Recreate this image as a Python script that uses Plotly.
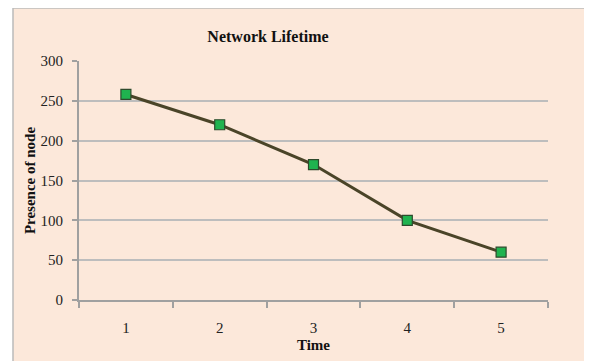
import plotly.graph_objects as go

time_labels = ["1", "2", "3", "4", "5"]
time_pos = [1, 2, 3, 4, 5]
presence = [258, 220, 170, 100, 60]
y_ticks = [0, 50, 100, 150, 200, 250, 300]

fig = go.Figure()
fig.add_trace(go.Scatter(
    x=time_pos, y=presence, mode="lines+markers",
    line=dict(color="#4a4428", width=3),
    marker=dict(symbol="square", size=10, color="#1fb34f",
                line=dict(color="#2d4a2d", width=1.2)),
    showlegend=False,
))

serif = "Liberation Serif"
fig.update_layout(
    width=592, height=361,
    margin=dict(l=71, r=52, t=53, b=69),
    paper_bgcolor="white",
    plot_bgcolor="white",
    font=dict(family=serif, color="#222222"),
    title=dict(text="<b>Network Lifetime</b>", x=260 / 592, xanchor="center",
               y=1 - 28 / 361, yanchor="middle",
               font=dict(family=serif, size=16, color="#111111")),
    shapes=[dict(type="rect", xref="paper", yref="paper", layer="below",
                 x0=(5 - 71) / 469, x1=1.3, y0=-0.5, y1=1 + 53 / 239,
                 fillcolor="#fce8da", line=dict(color="#bbbbbb", width=1.5))],
)
fig.update_xaxes(
    range=[0.5, 5.5], tickvals=time_pos, ticktext=time_labels,
    ticks="", showgrid=False, zeroline=False,
    showline=True, linecolor="#a0a0a0", linewidth=2,
    tickfont=dict(family=serif, size=15, color="#222222"),
    ticklabelstandoff=13,
    minor=dict(tickvals=[0.5, 1.5, 2.5, 3.5, 4.5, 5.5], ticks="outside",
               ticklen=6, tickcolor="#a0a0a0", tickwidth=1.5, showgrid=False),
    title=dict(text="<b>Time</b>", standoff=4,
               font=dict(family=serif, size=15, color="#111111")),
)
fig.update_yaxes(
    range=[0, 300], tickvals=y_ticks,
    ticks="outside", ticklen=5, tickcolor="#a0a0a0", tickwidth=1.5,
    showgrid=True, gridcolor="#bdbdbd", gridwidth=1.5, zeroline=False,
    showline=True, linecolor="#a0a0a0", linewidth=2,
    tickfont=dict(family=serif, size=15, color="#222222"),
    ticklabelstandoff=6,
    title=dict(text="<b>Presence of node</b>", standoff=1,
               font=dict(family=serif, size=15, color="#111111")),
)
fig.write_html("out.html")
